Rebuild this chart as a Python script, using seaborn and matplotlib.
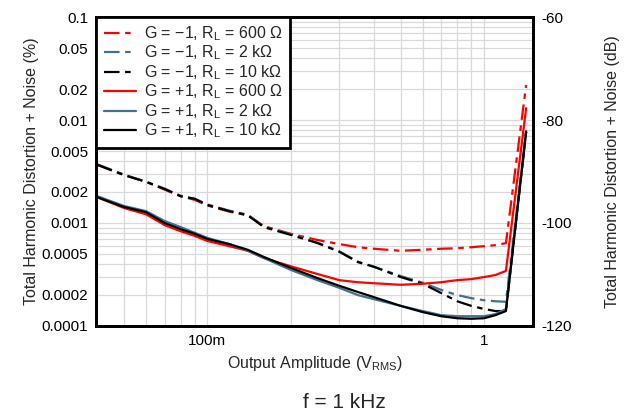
import matplotlib
matplotlib.use("Agg")
import matplotlib.pyplot as plt
import numpy as np
import pandas as pd
import seaborn as sns
from matplotlib.ticker import FixedLocator, FixedFormatter, LogLocator, NullFormatter

# ---- data (THD+N in dB) ----
amplitude_vrms = [0.04, 0.05, 0.06, 0.07, 0.08, 0.09, 0.1, 0.12, 0.14, 0.16, 0.2, 0.25,
                  0.3, 0.35, 0.4, 0.5, 0.6, 0.7, 0.8, 0.9, 1.0, 1.1, 1.2, 1.42]

thdn_inv_600 = [-88.7, -90.7, -92.0, -93.5, -94.8, -95.5, -96.6, -97.8, -98.5, -100.6, -102.1, -103.3,
                -104.1, -104.7, -105.0, -105.4, -105.2, -105.0, -104.9, -104.7, -104.5, -104.3, -103.9, -73.2]
thdn_inv_2k = [-88.6, -90.6, -92.0, -93.3, -94.7, -95.3, -96.4, -97.6, -98.4, -100.7, -102.2, -103.8,
               -105.5, -107.5, -108.5, -110.3, -111.6, -113.0, -114.0, -114.6, -115.0, -115.2, -115.3, -82.3]
thdn_inv_10k = [-88.7, -90.7, -92.0, -93.4, -94.8, -95.3, -96.5, -97.7, -98.5, -100.8, -102.3, -103.9,
                -105.6, -107.6, -108.5, -110.5, -111.8, -113.6, -115.2, -116.1, -116.7, -117.1, -117.1, -82.3]
thdn_non_600 = [-95.0, -97.1, -98.3, -100.4, -101.6, -102.5, -103.5, -104.5, -105.4, -106.8, -108.4, -109.9,
                -111.1, -111.5, -111.7, -112.0, -111.8, -111.5, -111.1, -110.9, -110.5, -110.1, -109.3, -77.7]
thdn_non_2k = [-94.8, -96.7, -97.7, -99.6, -100.8, -101.9, -102.9, -104.1, -105.4, -106.8, -109.1, -111.1,
               -112.6, -114.0, -114.8, -116.1, -117.1, -117.9, -118.1, -118.1, -118.1, -117.7, -116.7, -82.1]
thdn_non_10k = [-95.0, -96.9, -97.9, -100.0, -101.2, -102.1, -103.1, -104.1, -105.2, -106.6, -108.7, -110.7,
                -112.2, -113.4, -114.4, -116.1, -117.3, -118.1, -118.5, -118.6, -118.5, -117.9, -117.1, -82.3]

series_labels = [
    "G = \u22121, R$_\\mathregular{L}$ = 600 \u03a9",
    "G = \u22121, R$_\\mathregular{L}$ = 2 k\u03a9",
    "G = \u22121, R$_\\mathregular{L}$ = 10 k\u03a9",
    "G = +1, R$_\\mathregular{L}$ = 600 \u03a9",
    "G = +1, R$_\\mathregular{L}$ = 2 k\u03a9",
    "G = +1, R$_\\mathregular{L}$ = 10 k\u03a9",
]
series_values = [thdn_inv_600, thdn_inv_2k, thdn_inv_10k, thdn_non_600, thdn_non_2k, thdn_non_10k]

pct_ticks = [0.1, 0.05, 0.02, 0.01, 0.005, 0.002, 0.001, 0.0005, 0.0002, 0.0001]
pct_tick_labels = ["0.1", "0.05", "0.02", "0.01", "0.005", "0.002", "0.001", "0.0005", "0.0002", "0.0001"]
db_ticks = [-60, -80, -100, -120]
db_tick_labels = ["-60", "-80", "-100", "-120"]
x_ticks = [0.1, 1.0]
x_tick_labels = ["100m", "1"]

# ---- styling ----
sns.set_style("white")
plt.rcParams["font.family"] = ["Liberation Sans", "DejaVu Sans"]
plt.rcParams["mathtext.fontset"] = "custom"
plt.rcParams["mathtext.rm"] = "Liberation Sans"
plt.rcParams["mathtext.it"] = "Liberation Sans:italic"

RED = "#ff0000"
BLUE = "#43708c"
BLACK = "#000000"
palette = dict(zip(series_labels, [RED, BLUE, BLACK, RED, BLUE, BLACK]))
dash = (7, 2.5, 2.5, 2.5)
dashes = dict(zip(series_labels, [dash, dash, dash, "", "", ""]))

rows = []
for lab, vals in zip(series_labels, series_values):
    for a, v in zip(amplitude_vrms, vals):
        rows.append({"amp": a, "thdn_db": v, "series": lab})
df = pd.DataFrame(rows)

fig = plt.figure(figsize=(6.26, 4.15), dpi=100)
ax = fig.add_axes([0.154, 0.2145, 0.697, 0.7445])   # % axis (log), left
axr = ax.twinx()                                   # dB axis (linear), right, holds data

sns.lineplot(data=df, x="amp", y="thdn_db", hue="series", style="series",
             hue_order=series_labels, style_order=series_labels,
             palette=palette, dashes=dashes, linewidth=1.6,
             estimator=None, sort=False, ax=axr)

ax.set_xscale("log")
ax.set_xlim(0.0397, 1.5)
ax.set_yscale("log")
ax.set_ylim(0.0001, 0.1)
axr.set_ylim(-120, -60)

# grid on the % axis (behind)
ax.xaxis.set_major_locator(FixedLocator(x_ticks))
ax.xaxis.set_major_formatter(FixedFormatter(x_tick_labels))
ax.xaxis.set_minor_locator(LogLocator(base=10, subs=np.arange(2, 10)))
ax.xaxis.set_minor_formatter(NullFormatter())
ax.yaxis.set_major_locator(FixedLocator(pct_ticks))
ax.yaxis.set_major_formatter(FixedFormatter(pct_tick_labels))
ax.yaxis.set_minor_locator(LogLocator(base=10, subs=np.arange(2, 10)))
ax.yaxis.set_minor_formatter(NullFormatter())
ax.grid(True, which="both", color="#d9d9d9", linewidth=0.9)
ax.set_axisbelow(True)

axr.yaxis.set_major_locator(FixedLocator(db_ticks))
axr.yaxis.set_major_formatter(FixedFormatter(db_tick_labels))
axr.grid(False)

for a in (ax, axr):
    a.tick_params(axis="both", which="both", length=0, labelsize=11, colors="black", pad=6)
    for s in a.spines.values():
        s.set_color("black")
        s.set_linewidth(2.0)

ax.set_ylabel("Total Harmonic Distortion + Noise (%)", fontsize=11.5, labelpad=2)
axr.set_ylabel("Total Harmonic Distortion + Noise (dB)", fontsize=11.5, labelpad=24)
ax.set_xlabel("Output Amplitude (V$_\\mathregular{RMS}$)", fontsize=11.5, labelpad=4)
axr.set_xlabel("")

handles, labels = axr.get_legend_handles_labels()
for h in handles:
    h.set_linewidth(1.6)
leg = axr.legend(handles, labels, loc="upper left", borderaxespad=0, fontsize=11.5,
                 fancybox=False, framealpha=1, edgecolor="black", handlelength=2.0,
                 handletextpad=0.5, labelspacing=0.05, borderpad=0.45)
leg.get_frame().set_linewidth(2.0)

fig.text(0.55, 0.031, "f = 1 kHz", fontsize=15, ha="center", va="center")

fig.savefig("out.png", dpi=100)
